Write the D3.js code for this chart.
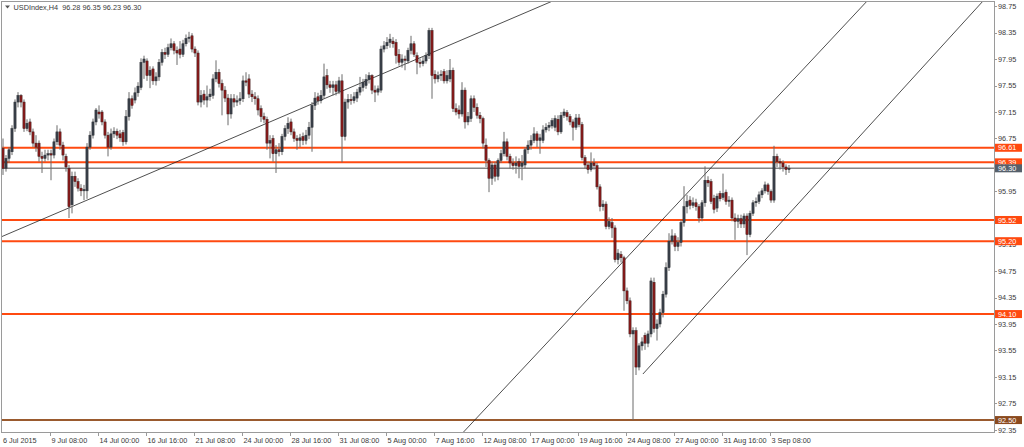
<!DOCTYPE html>
<html><head><meta charset="utf-8">
<script src="https://cdn.jsdelivr.net/npm/d3@7"></script>
<style>
body{margin:0;background:#fff}
svg{display:block}
text{font-family:"Liberation Sans",Arial,sans-serif}
</style>
</head><body><svg id="c" width="1024" height="447"></svg>
<script>
// ---- DATA (USDIndex H4) ----
const openP = [96.60,96.30,96.45,96.55,96.90,97.30,97.40,97.30,96.90,97.00,96.85,96.68,96.68,96.48,96.45,96.50,96.52,96.50,96.70,96.85,
96.65,96.48,96.30,95.75,96.18,96.10,96.00,95.96,95.96,96.62,96.80,97.00,97.15,97.15,97.00,96.80,96.62,96.82,96.86,96.82,
96.84,96.70,97.08,97.35,97.33,97.44,97.52,97.90,97.92,97.70,97.80,97.62,97.68,97.90,98.05,98.02,98.12,98.18,98.08,98.10,
98.02,98.18,98.26,98.30,98.10,98.04,97.30,97.42,97.33,97.38,97.40,97.65,97.75,97.58,97.48,97.36,97.12,97.35,97.30,97.32,
97.35,97.62,97.65,97.42,97.38,97.35,97.20,97.08,97.04,96.68,96.75,96.52,96.58,96.55,96.78,96.90,97.00,96.85,96.75,96.72,
96.78,96.72,96.80,96.92,97.25,97.38,97.32,97.40,97.70,97.56,97.52,97.56,97.46,97.62,96.78,97.30,97.34,97.32,97.36,97.45,
97.52,97.55,97.64,97.70,97.48,97.45,97.48,98.10,98.15,98.20,98.22,98.20,98.02,97.90,97.95,97.92,98.08,98.18,98.00,97.90,
97.88,97.92,98.00,98.38,97.72,97.65,97.70,97.76,97.62,97.65,97.78,97.20,97.18,97.12,97.48,97.00,97.05,97.35,97.22,97.10,
97.05,96.65,96.42,96.15,96.35,96.18,96.42,96.52,96.70,96.48,96.38,96.34,96.40,96.33,96.35,96.58,96.65,96.72,96.82,96.72,
96.72,96.88,96.92,96.94,96.92,97.04,96.85,97.10,97.14,97.08,97.00,96.92,97.06,96.96,96.46,96.35,96.28,96.38,96.34,96.02,
95.72,95.76,95.42,95.48,95.40,94.92,95.00,94.95,94.45,94.30,93.80,93.85,93.30,93.62,93.78,93.66,93.80,94.58,93.88,93.95,
94.12,94.40,94.80,95.20,95.28,95.12,95.18,95.48,95.72,95.82,95.74,95.78,95.72,95.55,95.78,96.12,96.10,95.85,95.70,95.92,
95.86,95.94,95.80,95.82,95.55,95.50,95.54,95.46,95.58,95.30,95.62,95.78,95.80,95.90,95.96,96.05,95.95,95.82,96.48,96.40,
96.38,96.32,96.28];
const highP = [96.75,96.50,96.62,96.95,97.34,97.45,97.42,97.34,97.04,97.05,96.90,96.80,96.72,96.55,96.58,96.58,96.58,96.75,96.95,96.90,
96.70,96.52,96.35,96.25,96.25,96.15,96.06,96.05,96.68,96.86,97.05,97.21,97.25,97.18,97.04,96.85,96.90,96.92,96.90,96.88,
96.88,97.18,97.45,97.40,97.52,97.60,97.96,98.00,97.96,97.84,97.84,97.75,97.95,98.10,98.12,98.18,98.26,98.22,98.14,98.22,
98.24,98.32,98.36,98.34,98.14,98.08,97.48,97.48,97.55,97.50,97.72,97.93,97.80,97.64,97.54,97.42,97.42,97.42,97.40,97.45,
97.70,97.75,97.72,97.48,97.45,97.40,97.25,97.14,97.08,96.80,96.80,96.65,96.68,96.82,96.95,97.07,97.05,96.90,96.80,96.82,
96.84,96.88,97.00,97.30,97.45,97.44,97.48,97.88,97.80,97.62,97.62,97.62,97.68,97.72,97.35,97.42,97.42,97.45,97.50,97.68,
97.65,97.72,97.75,97.72,97.55,97.55,98.15,98.22,98.28,98.33,98.28,98.25,98.10,98.02,98.00,98.12,98.30,98.22,98.05,97.96,
97.98,98.05,98.42,98.42,97.78,97.76,97.78,97.80,97.78,97.95,97.82,97.28,97.25,97.60,97.52,97.15,97.40,97.40,97.28,97.15,
97.08,96.75,96.45,96.40,96.40,96.45,96.58,96.85,96.75,96.52,96.45,96.48,96.45,96.50,96.62,96.72,96.80,96.92,96.86,96.82,
96.95,96.98,97.00,97.06,97.10,97.10,97.15,97.20,97.18,97.12,97.04,97.12,97.12,97.00,96.50,96.40,96.54,96.45,96.38,96.06,
95.82,95.80,95.56,95.55,95.44,95.08,95.05,94.98,94.50,94.35,93.90,93.90,93.66,93.75,93.82,93.85,94.65,94.65,94.02,94.18,
94.45,94.88,95.32,95.38,95.32,95.26,95.52,96.03,95.90,95.88,95.86,95.84,95.76,95.82,96.33,96.18,96.14,95.90,95.92,95.96,
96.22,95.98,95.88,95.86,95.62,95.60,95.60,95.62,95.62,95.66,95.82,95.86,95.95,96.00,96.10,96.08,95.98,96.64,96.52,96.45,
96.42,96.36,96.35];
const lowP = [96.20,96.25,96.38,96.50,96.85,97.22,97.22,96.85,96.86,96.80,96.62,96.55,96.40,96.23,96.40,96.42,96.12,96.45,96.65,96.58,
96.42,96.25,95.55,95.62,96.02,95.95,95.88,95.82,95.84,96.58,96.75,96.95,97.05,96.95,96.75,96.48,96.58,96.76,96.74,96.70,
96.64,96.66,97.02,97.20,97.28,97.38,97.48,97.65,97.62,97.51,97.56,97.55,97.62,97.85,97.95,97.98,98.08,98.02,97.86,97.96,
97.98,98.14,98.20,98.05,97.98,97.25,97.22,97.26,97.22,97.32,97.35,97.60,97.52,97.10,97.30,96.95,97.05,97.22,97.24,97.26,
97.30,97.54,97.36,97.30,97.26,97.10,97.00,96.98,96.58,96.45,96.40,96.23,96.48,96.50,96.72,96.82,96.80,96.70,96.58,96.62,
96.65,96.66,96.74,96.55,97.18,97.26,97.28,97.35,97.50,97.44,97.40,97.40,97.42,96.39,96.72,97.20,97.26,97.28,97.30,97.40,
97.46,97.50,97.58,97.42,97.30,97.40,97.44,98.05,98.10,98.12,98.12,97.88,97.85,97.82,97.78,97.88,98.02,97.98,97.72,97.82,
97.84,97.88,97.95,97.35,97.58,97.60,97.62,97.58,97.58,97.60,97.15,97.10,97.05,97.08,96.90,96.95,97.00,97.15,97.05,96.98,
96.60,96.32,95.94,96.05,96.10,96.12,96.38,96.48,96.42,96.30,96.28,96.22,96.15,96.12,96.30,96.52,96.58,96.68,96.62,96.52,
96.68,96.84,96.86,96.90,96.86,96.80,96.82,97.06,97.02,96.95,96.72,96.88,96.92,96.42,96.30,96.22,96.25,96.28,95.98,95.65,
95.66,95.38,95.38,95.25,94.88,94.85,94.88,94.15,94.25,93.75,92.50,93.18,93.25,93.55,93.56,93.60,93.75,93.82,93.70,93.90,
94.05,94.35,94.75,95.15,95.05,95.05,95.12,95.42,95.62,95.68,95.70,95.66,95.48,95.50,95.72,96.02,95.76,95.62,95.64,95.80,
95.82,95.75,95.72,95.50,95.22,95.40,95.40,95.40,94.99,95.26,95.58,95.72,95.76,95.85,95.92,95.90,95.78,95.78,96.32,96.28,
96.25,96.20,96.23];
const closeP = [96.30,96.45,96.58,96.90,97.30,97.40,97.30,96.90,96.98,96.85,96.68,96.62,96.48,96.45,96.50,96.52,96.50,96.70,96.85,96.65,
96.50,96.32,95.72,96.18,96.10,96.00,95.96,95.98,96.62,96.80,97.00,97.18,97.12,97.00,96.80,96.62,96.82,96.86,96.80,96.76,
96.70,97.08,97.35,97.25,97.44,97.54,97.90,97.95,97.70,97.78,97.62,97.68,97.90,98.05,98.02,98.12,98.18,98.08,98.04,98.02,
98.18,98.26,98.28,98.10,98.04,97.30,97.40,97.33,97.38,97.42,97.65,97.75,97.58,97.48,97.36,97.12,97.35,97.30,97.32,97.35,
97.62,97.60,97.42,97.38,97.35,97.18,97.08,97.04,96.68,96.72,96.52,96.58,96.55,96.78,96.90,96.98,96.85,96.75,96.72,96.76,
96.72,96.80,96.92,97.25,97.36,97.32,97.40,97.68,97.56,97.52,97.56,97.46,97.62,96.78,97.30,97.34,97.32,97.38,97.45,97.52,
97.60,97.64,97.70,97.48,97.45,97.50,98.10,98.15,98.20,98.25,98.18,98.00,97.90,97.95,97.93,98.08,98.18,98.02,97.90,97.88,
97.92,98.00,98.38,97.70,97.65,97.70,97.72,97.62,97.70,97.78,97.20,97.15,97.12,97.48,97.00,97.08,97.35,97.22,97.10,97.05,
96.68,96.42,96.15,96.35,96.18,96.42,96.52,96.70,96.48,96.38,96.34,96.38,96.33,96.38,96.58,96.65,96.72,96.82,96.72,96.76,
96.88,96.92,96.95,97.02,97.05,96.85,97.10,97.15,97.08,97.00,96.92,97.06,96.96,96.46,96.35,96.28,96.38,96.34,96.02,95.72,
95.76,95.42,95.50,95.40,94.92,95.02,94.95,94.45,94.30,93.80,93.85,93.30,93.62,93.68,93.66,93.80,94.60,93.88,93.95,94.12,
94.40,94.80,95.20,95.28,95.12,95.18,95.48,95.72,95.80,95.74,95.78,95.72,95.55,95.78,96.12,96.08,95.80,95.68,95.88,95.84,
95.92,95.80,95.82,95.55,95.50,95.54,95.46,95.58,95.30,95.62,95.78,95.80,95.90,95.96,96.05,95.95,95.82,96.48,96.40,96.38,
96.32,96.28,96.30];

const priceTicks = [92.35,92.75,93.15,93.55,93.95,94.35,94.75,95.15,95.55,95.95,96.35,96.75,97.15,97.55,97.95,98.35,98.75];
const firstDateLabel = "6 Jul 2015";
const timeLabels = ["9 Jul 08:00","14 Jul 00:00","16 Jul 16:00","21 Jul 08:00","24 Jul 00:00","28 Jul 16:00","31 Jul 08:00","5 Aug 00:00",
"7 Aug 16:00","12 Aug 08:00","17 Aug 00:00","19 Aug 16:00","24 Aug 08:00","27 Aug 00:00","31 Aug 16:00","3 Sep 08:00"];
const timeLabelBars = [16,32,48,64,80,96,112,128,144,160,176,192,208,224,240,256];
const levelPrices = [96.61,96.39,95.52,95.20,94.10];
const bidPrice = 96.30;
const floorPrice = 92.50;
// trend lines: [barA, priceA, barB, priceB]
const trendLines = [[-5,95.18,185,98.86],[150,92.15,290,98.92],[213.3,93.195,330,98.99]];
const titleText = "USDIndex,H4  96.28 96.35 96.23 96.30";

// ---- CHART ----
const svg = d3.select("#c");
const L = 2, R = 994, T = 2, B = 432;
const x = d3.scaleLinear().domain([0, (R - L) / 3]).range([L, R]);
const y = d3.scaleLinear().domain([92.35, 98.75]).range([430, 6]);

svg.append("defs").append("clipPath").attr("id","pc")
  .append("rect").attr("x",L).attr("y",T).attr("width",R-L).attr("height",B-T);

const plot = svg.append("g").attr("clip-path","url(#pc)");

// horizontal levels
function hline(p, color, w){
  plot.append("line").attr("x1",L).attr("x2",R).attr("y1",y(p)).attr("y2",y(p))
    .attr("stroke",color).attr("stroke-width",w);
}
hline(bidPrice, "#858585", 1.5);
levelPrices.forEach(p => hline(p, "#ff4a10", 2));
hline(floorPrice, "#9a5a2e", 2);

// trend lines
plot.selectAll("line.tl").data(trendLines).enter().append("line").attr("class","tl")
  .attr("x1",d=>x(d[0])+1).attr("y1",d=>y(d[1]))
  .attr("x2",d=>x(d[2])+1).attr("y2",d=>y(d[3]))
  .attr("stroke","#222").attr("stroke-width",0.8);

// candles
const bars = openP.map((o,i)=>({i,o,h:Math.max(highP[i],o,closeP[i]),l:Math.min(lowP[i],o,closeP[i]),c:closeP[i]}));
const cg = plot.append("g");
cg.selectAll("line.w").data(bars).enter().append("line").attr("class","w")
  .attr("x1",d=>x(d.i)+1).attr("x2",d=>x(d.i)+1)
  .attr("y1",d=>y(d.h)).attr("y2",d=>y(d.l))
  .attr("stroke","#6a6a6a").attr("stroke-width",1);
cg.selectAll("rect.b").data(bars).enter().append("rect").attr("class","b")
  .attr("x",d=>x(d.i)-0.1).attr("width",2.2)
  .attr("y",d=>y(Math.max(d.o,d.c)))
  .attr("height",d=>Math.max(1, y(Math.min(d.o,d.c)) - y(Math.max(d.o,d.c))))
  .attr("fill",d=>d.c>=d.o ? "#3a4049" : "#8e1c1c")
  .attr("stroke",d=>d.c>=d.o ? "#2b2f35" : "#3a1a1a").attr("stroke-width",0.5);

// frame
svg.append("rect").attr("x",L-0.5).attr("y",T-0.5).attr("width",R-L+1).attr("height",B-T+1)
  .attr("fill","none").attr("stroke","#9a9a9a").attr("stroke-width",1);

// y axis labels (labels fully hidden behind price tags are not drawn, as in the reference)
const tagPrices = levelPrices.concat([bidPrice, floorPrice]);
const ya = svg.append("g");
priceTicks.forEach(p=>{
  ya.append("line").attr("x1",R).attr("x2",R+3).attr("y1",Math.round(y(p))+0.5).attr("y2",Math.round(y(p))+0.5).attr("stroke","#9a9a9a");
  const hidden = tagPrices.some(t => Math.abs(y(t) - y(p)) < 3);
  if (!hidden)
    ya.append("text").attr("x",R+4).attr("y",y(p)+2.6).attr("font-size",7.3).attr("fill","#3a3a3a").text(p.toFixed(2));
});

// level tags
function tag(p, fill){
  ya.append("rect").attr("x",R+1).attr("y",y(p)-4).attr("width",27).attr("height",8).attr("fill",fill);
  ya.append("text").attr("x",R+4).attr("y",y(p)+2.6).attr("font-size",7.3).attr("fill","#fff").text(p.toFixed(2));
}
tag(floorPrice,"#8b4a1e");
levelPrices.forEach(p=>tag(p,"#ff4a10"));
tag(bidPrice,"#56606b");

// x axis labels
const xa = svg.append("g");
xa.append("text").attr("x",L+1).attr("y",443).attr("font-size",7.3).attr("fill","#3a3a3a").text(firstDateLabel);
timeLabels.forEach((t,k)=>{
  const xx = Math.round(x(timeLabelBars[k]))+0.5;
  xa.append("line").attr("x1",xx).attr("x2",xx).attr("y1",B).attr("y2",B+4).attr("stroke","#9a9a9a");
  xa.append("text").attr("x",xx+1).attr("y",443).attr("font-size",7.3).attr("fill","#3a3a3a").text(t);
});

// title
svg.append("path").attr("d","M5,5.5 L10,5.5 L7.5,8.5 Z").attr("fill","#555");
svg.append("text").attr("x",13.5).attr("y",10).attr("font-size",7.3).attr("fill","#3a3a3a")
  .attr("xml:space","preserve").style("white-space","pre").text(titleText);
</script>
</body></html>
